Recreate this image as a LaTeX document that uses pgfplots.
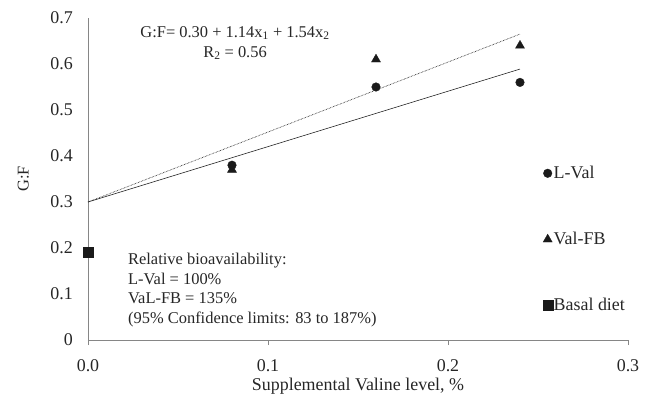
\documentclass[border=0pt]{standalone}
\usepackage{pgfplots}
\pgfplotsset{compat=1.18}
\usepackage{fontspec}
\setmainfont{Liberation Serif}
\definecolor{axgray}{HTML}{868686}
\definecolor{mk}{HTML}{1A1A1A}
\begin{document}
\begin{tikzpicture}
\fontsize{18}{21}\selectfont
\begin{axis}[
  name=ax,
  scale only axis,
  width=540bp, height=322bp,
  xmin=0, xmax=0.3, ymin=0, ymax=0.7,
  xtick={0,0.1,0.2,0.3},
  ytick={0,0.1,0.2,0.3,0.4,0.5,0.6,0.7},
  xticklabels={0.0,0.1,0.2,0.3},
  yticklabels={0,0.1,0.2,0.3,0.4,0.5,0.6,0.7},
  axis x line*=bottom, axis y line*=left,
  axis line style={axgray, line width=0.8pt, -},
  x tick style={axgray, line width=0.8pt},
  major tick length=5bp,
  xtick align=outside,
  y tick style={draw=none},
  tick label style={font=\fontsize{18}{21}\selectfont, text=black!85},
  xticklabel style={yshift=-8bp},
  yticklabel style={xshift=-9bp},
  xlabel={Supplemental Valine level, \%},
  ylabel={G:F},
  label style={font=\fontsize{18}{21}\selectfont, text=black!85},
  xlabel style={at={(axis description cs:0.5,-0.143)}, anchor=center},
  ylabel style={at={(axis description cs:-0.12,0.5)}, anchor=center, font=\fontsize{16.5}{19}\selectfont},
  clip=false,
  legend style={at={(axis cs:0.2525,0.3815)}, anchor=north west, draw=none, fill=none,
    font=\fontsize{18}{21}\selectfont, text=black!85, row sep=49bp, inner sep=0pt,
    nodes={inner sep=1pt}},
  legend cell align=left,
  legend image code/.code={\draw[#1] plot coordinates {(0.13cm,0cm)};},
]
\addplot[line width=0.6pt, black!85, forget plot] coordinates {(0,0.30) (0.24,0.589)};
\addplot[line width=0.7pt, black!85, dash pattern=on 0.6pt off 0.9pt, forget plot] coordinates {(0,0.30) (0.24,0.665)};
\addplot[only marks, mark=*, mark size=4.3bp, mk] coordinates {(0.08,0.38) (0.16,0.55) (0.24,0.56)};
\addlegendentry{L-Val}
\addplot[only marks, mark=triangle*, mark size=5.2bp, mk] coordinates {(0.08,0.37) (0.16,0.61) (0.24,0.64)};
\addlegendentry{Val-FB}
\addplot[only marks, mark=square*, mark size=5bp, mk] coordinates {(0,0.19)};
\addlegendentry{Basal diet}
\node[align=center, text=black!85, font=\fontsize{16.5}{20}\selectfont] at (axis cs:0.0817,0.6457)
  {G:F= 0.30 + 1.14x\textsubscript{1} + 1.54x\textsubscript{2}\\R\textsubscript{2} = 0.56};
\node[align=left, anchor=north west, text=black!85, inner sep=0pt,
  font=\fontsize{16.5}{19.7}\selectfont] at (axis cs:0.0222,0.189)
  {Relative bioavailability:\\L-Val = 100\%\\VaL-FB = 135\%\\(95\% Confidence limits: 83 to 187\%)};
\end{axis}
\pgfresetboundingbox
\path (ax.south west) ++(-88bp,-57bp) rectangle ++(650bp,397bp);
\end{tikzpicture}
\end{document}
